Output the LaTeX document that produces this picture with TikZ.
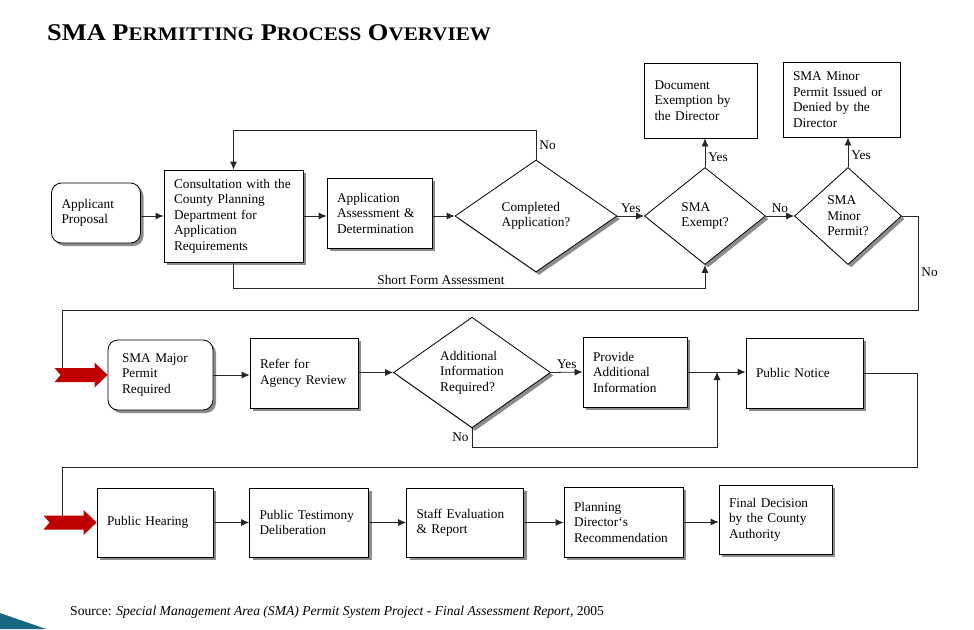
\documentclass[tikz,border=0pt]{standalone}
\usepackage{fontspec}
\usepackage{graphicx}
\setmainfont{Liberation Serif}
\usetikzlibrary{arrows.meta,shapes.geometric,shadows}

\definecolor{arrowred}{RGB}{192,0,0}
\definecolor{cornerblue}{RGB}{24,104,132}
\newcommand{\boxfont}{\fontsize{13.3}{15.5}\selectfont}
\newcommand{\tcap}[1]{{\fontsize{24}{24}\selectfont #1}}
\newcommand{\tsml}[1]{{\fontsize{19.2}{19.2}\selectfont #1}}

\tikzset{
  shadowed/.style={drop shadow={shadow xshift=3pt, shadow yshift=-3pt, fill=black!45, opacity=1}},
  plainbox/.style={draw, line width=0.8pt, fill=white, align=left, inner xsep=10pt, inner ysep=3pt, font=\boxfont},
  box/.style={plainbox, shadowed},
  roundbox/.style={box, rounded corners=10pt},
  decision/.style={diamond, draw, line width=0.8pt, fill=white, align=left, inner sep=1pt, font=\boxfont, shadowed},
  link/.style={->, line width=0.8pt, black!85},
  lbl/.style={font=\boxfont, inner sep=3pt, text=black},
  redarrow/.pic={\fill[arrowred] (0,0) -- (-13,-12.5) -- (-13,-7) -- (-53,-7) -- (-47,0) -- (-53,7) -- (-13,7) -- (-13,12.5) -- cycle;}
}

\begin{document}
\begin{tikzpicture}[x=1pt, y=-1pt, >={Latex[length=8pt, width=7pt]}]
	\useasboundingbox (0,0) rectangle (974,629);
	\fill[white] (0,0) rectangle (974,629);

	% Title
	\node[anchor=base west, inner sep=0pt, font=\bfseries\fontsize{24}{24}\selectfont] (title) at (47,40) {\scalebox{1.1}[1]{\tcap{SMA P}\tsml{ERMITTING} \tcap{P}\tsml{ROCESS} \tcap{O}\tsml{VERVIEW}}};

	% Top row
	\node[roundbox, text width=69pt, minimum height=60pt] (app) at (96,213) {Applicant\\Proposal};
	\node[box, text width=119pt, minimum height=92pt] (consult) at (233.5,216) {Consultation with the\\County Planning\\Department for\\Application\\Requirements};
	\node[box, text width=85pt, minimum height=70pt] (assess) at (379.5,213) {Application\\Assessment \&\\Determination};
	\node[decision, minimum width=162pt, minimum height=112pt] (complete) at (536,216) {Completed\\Application?};
	\node[decision, minimum width=121pt, minimum height=97pt] (exempt) at (705,216) {SMA\\Exempt?};
	\node[decision, minimum width=107pt, minimum height=97pt] (minor) at (848,216) {SMA\\Minor\\Permit?};
	\node[plainbox, text width=93pt, minimum height=75pt] (docex) at (701,100.5) {Document\\Exemption by\\the Director};
	\node[plainbox, text width=97pt, minimum height=75pt] (issued) at (841.5,99.5) {SMA Minor\\Permit Issued or\\Denied by the\\Director};

	\draw[link] (consult.west -| app.east) -- (consult.west);
	\draw[link] (consult.east) -- (consult.east -| assess.west);
	\draw[link] (complete.west -| assess.east) -- (complete.west);
	\draw[link] (complete.east) -- node[lbl, above] {Yes} (exempt.west);
	\draw[link] (exempt.east) -- node[lbl, above] {No} (minor.west);
	\draw[link] (exempt.north) -- node[lbl, right, pos=0.35] {Yes} (exempt.north |- docex.south);
	\draw[link] (minor.north) -- node[lbl, right, pos=0.4] {Yes} (minor.north |- issued.south);
	\draw[link] (complete.north) -- node[lbl, right] {No} ++(0,-29) -| (consult.north);
	\draw[link] (consult.south) -- ++(0,26) -| node[lbl, above, pos=0.22] {Short Form Assessment} (exempt.south);

	% Down to the major permit row
	\coordinate (turnA) at (918,310);
	\coordinate (inA) at (62,374);
	\draw[link, -] (minor.east) -| node[lbl, right, pos=0.8] {No} (turnA) -| (inA);

	% Middle row
	\node[roundbox, text width=77pt, inner xsep=14pt, minimum height=70pt] (major) at (160.5,375) {SMA Major\\Permit\\Required};
	\node[box, text width=88pt, minimum height=70pt] (refer) at (304,373) {Refer for\\Agency Review};
	\node[decision, minimum width=157pt, minimum height=107pt] (addinfo) at (472,372.5) {Additional\\Information\\Required?};
	\node[box, text width=84pt, minimum height=70pt] (provide) at (635,372) {Provide\\Additional\\Information};
	\node[box, text width=97pt, minimum height=70pt] (notice) at (804.5,373) {Public Notice};
	\pic at (major.west) {redarrow};

	\coordinate (merge) at (717,372);
	\draw[link] (major.east) -- (major.east -| refer.west);
	\draw[link] (addinfo.west -| refer.east) -- (addinfo.west);
	\draw[link] (addinfo.east) -- node[lbl, above] {Yes} (provide.west);
	\draw[link] (provide.east) -- (provide.east -| notice.west);
	\draw[link] (addinfo.south) -- node[lbl, left] {No} ++(0,19) -| (merge);

	% Down to the hearing row
	\coordinate (turnB) at (917,467);
	\coordinate (inB) at (62,522);
	\draw[link, -] (notice.east) -| (turnB) -| (inB);

	% Bottom row
	\node[box, text width=96pt, minimum height=69pt] (hearing) at (155,522.5) {Public Hearing};
	\node[box, text width=99pt, minimum height=69pt] (testimony) at (309,522.5) {Public Testimony\\Deliberation};
	\node[box, text width=97pt, minimum height=69pt] (staff) at (465,522.5) {Staff Evaluation\\\& Report};
	\node[box, text width=99pt, minimum height=70pt] (planning) at (623.5,522) {Planning\\Director`s\\Recommendation};
	\node[box, text width=93pt, minimum height=69pt] (final) at (775.5,519.5) {Final Decision\\by the County\\Authority};
	\pic at (hearing.west) {redarrow};

	\draw[link] (hearing.east) -- (testimony.west);
	\draw[link] (testimony.east) -- (staff.west);
	\draw[link] (staff.east) -- (staff.east -| planning.west);
	\draw[link] (planning.east) -- (planning.east -| final.west);

	% Source and corner
	\node[anchor=base west, inner sep=0pt, font=\fontsize{13.6}{15}\selectfont] (source) at (70,615) {Source: \textit{Special Management Area (SMA) Permit System Project - Final Assessment Report}, 2005};
	\fill[cornerblue] (0,613) -- (46,629) -- (0,629) -- cycle;
\end{tikzpicture}
\end{document}
